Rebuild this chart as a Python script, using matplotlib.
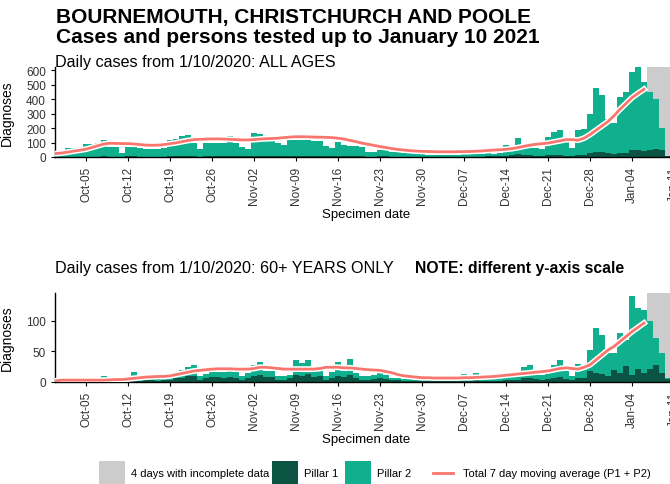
import numpy as np
import pandas as pd
import matplotlib
matplotlib.use('Agg')
from matplotlib import pyplot as plt
import matplotlib.dates as mdates
import matplotlib.patheffects as pe
from matplotlib.patches import Rectangle
from matplotlib.lines import Line2D

plt.rcParams['font.family'] = ['Liberation Sans', 'DejaVu Sans']

# specimen dates 30 Sep 2020 .. 10 Jan 2021
DATES = pd.date_range('2020-09-30', '2021-01-10')
LINE_DATES = pd.date_range('2020-09-30', '2021-01-06')

# ALL AGES: total (P1 + P2) and pillar 1
all_total = [20,
    30, 60, 62, 45, 88, 90, 100, 118, 72, 68, 30, 66, 66, 64, 56, 56, 56, 62, 120, 125, 148, 150, 100, 55, 100, 100, 100, 100, 148, 95, 70,
    55, 165, 158, 148, 148, 100, 85, 118, 118, 118, 115, 112, 112, 78, 62, 105, 80, 78, 76, 70, 32, 32, 46, 46, 38, 38, 26, 25, 22, 20,
    16, 16, 15, 16, 15, 14, 20, 18, 22, 22, 25, 24, 30, 80, 55, 128, 62, 60, 62, 58, 138, 173, 185, 112, 62, 185, 195, 295, 478, 430, 265,
    235, 418, 450, 588, 619, 515, 452, 402, 197, 8]
all_p1 = [1,
    2, 2, 2, 2, 3, 3, 3, 4, 3, 3, 2, 4, 4, 3, 3, 3, 3, 3, 5, 5, 6, 6, 5, 3, 6, 6, 6, 6, 7, 6, 5,
    4, 8, 8, 7, 7, 6, 5, 10, 10, 9, 9, 8, 8, 6, 5, 7, 6, 6, 6, 5, 3, 3, 4, 4, 3, 3, 3, 2, 2, 2,
    2, 2, 2, 2, 2, 2, 3, 3, 3, 3, 4, 4, 5, 10, 12, 18, 14, 12, 10, 10, 12, 14, 16, 10, 6, 14, 15, 25, 35, 33, 25,
    20, 30, 30, 48, 45, 42, 45, 58, 50, 5]
all_avg = [24,
    28, 34, 41, 47, 54, 66, 78, 90, 95, 94, 93, 92, 90, 86, 82, 81, 82, 86, 92, 98, 106, 114, 120, 122, 124, 125, 125, 124, 122, 120, 118,
    118, 120, 124, 126, 128, 130, 134, 138, 140, 140, 139, 138, 137, 136, 134, 130, 124, 115, 106, 96, 88, 80, 72, 65, 58, 52, 48, 44, 41, 39,
    38, 37, 36, 36, 36, 37, 37, 38, 40, 42, 45, 48, 50, 53, 58, 65, 74, 82, 88, 92, 96, 104, 112, 120, 120, 116, 130, 155, 185, 215, 245,
    285, 330, 370, 410, 440, 468]

# 60+ YEARS ONLY
old_total = [1,
    1, 2, 1, 2, 2, 3, 2, 10, 3, 3, 2, 4, 16, 5, 5, 6, 5, 6, 6, 17, 19, 25, 28, 9, 13, 17, 17, 17, 18, 17, 9,
    14, 28, 32, 18, 18, 9, 9, 12, 36, 31, 36, 18, 18, 9, 16, 32, 18, 37, 15, 9, 9, 11, 14, 12, 7, 7, 5, 5, 4, 4,
    3, 3, 3, 3, 3, 4, 13, 5, 14, 5, 5, 6, 6, 8, 9, 10, 25, 27, 12, 11, 14, 27, 36, 18, 9, 29, 22, 52, 88, 77, 48,
    47, 80, 68, 140, 120, 118, 100, 71, 47, 7]
old_p1 = [0,
    0, 1, 0, 1, 1, 1, 1, 2, 1, 1, 1, 2, 3, 2, 3, 3, 2, 3, 3, 6, 7, 9, 10, 4, 6, 8, 8, 7, 8, 7, 4,
    6, 10, 12, 8, 8, 4, 4, 6, 12, 10, 13, 8, 9, 4, 7, 10, 8, 12, 6, 4, 4, 5, 6, 5, 3, 3, 2, 2, 2, 2,
    1, 1, 1, 1, 1, 1, 2, 2, 3, 2, 2, 2, 2, 3, 4, 4, 6, 7, 5, 4, 5, 6, 8, 5, 3, 7, 6, 18, 15, 13, 9,
    19, 14, 26, 11, 21, 14, 21, 28, 15, 5]
old_avg = [2,
    3, 3, 3, 3, 3, 3, 3, 3, 3.5, 4, 4, 5, 6, 7, 8, 8.5, 9, 9, 10, 12, 14, 16, 18, 19, 20, 21, 21.5, 21.5, 21.5, 21, 21,
    21, 22, 24, 24, 23, 22, 21, 21, 21, 21, 21, 21, 22, 24, 24, 24, 23, 23, 22, 21, 20, 19.5, 19, 17, 15, 12, 10, 9, 8, 7,
    7, 6.5, 6.5, 6.5, 6.5, 6.5, 7, 7, 7.5, 8, 8.5, 9, 10, 11, 12, 13, 14, 15, 16, 17, 18, 20, 22, 23, 22, 21, 24, 28, 36, 44, 52,
    58, 66, 74, 82, 89, 96]

P1_COL = '#0b5444'
P2_COL = '#10b08e'
AVG_COL = '#f8766d'
GREY = '#cccccc'

W, H = 670, 485


def draw_panel(ax, total, p1, avg, ylim, yticks):
	x = mdates.date2num(DATES)
	ax.axvspan(mdates.date2num(pd.Timestamp('2021-01-06')) + 0.5,
		mdates.date2num(pd.Timestamp('2021-01-10')) + 0.5, color=GREY, lw=0, zorder=0)
	ax.bar(x, total, width=0.9, color=P2_COL, lw=0, zorder=1)
	ax.bar(x, p1, width=0.9, color=P1_COL, lw=0, zorder=2)
	ax.plot(mdates.date2num(LINE_DATES), avg, color=AVG_COL, lw=2, zorder=3,
		path_effects=[pe.Stroke(linewidth=4.2, foreground='white'), pe.Normal()])
	ax.set_xlim(mdates.date2num(pd.Timestamp('2020-09-29')) + 0.83,
		mdates.date2num(pd.Timestamp('2021-01-11')) + 0.5)
	ax.set_ylim(*ylim)
	ax.set_yticks(yticks)
	ax.xaxis.set_major_locator(mdates.WeekdayLocator(byweekday=mdates.MO))
	ax.xaxis.set_major_formatter(mdates.DateFormatter('%b-%d'))
	ax.tick_params(axis='x', labelrotation=90, labelsize=8.5, length=3, colors='black')
	ax.tick_params(axis='y', labelsize=8.5, length=3)
	for lab in ax.get_xticklabels() + ax.get_yticklabels():
		lab.set_color('#333333')
	for s in ['top', 'right']:
		ax.spines[s].set_visible(False)
	ax.spines['left'].set_linewidth(1.0)
	ax.spines['bottom'].set_linewidth(1.0)
	ax.set_ylabel('Diagnoses', fontsize=10, labelpad=2)
	ax.set_xlabel('Specimen date', fontsize=9.5, labelpad=3)


def main():
	fig = plt.figure(figsize=(W / 100, H / 100), dpi=100)

	left = 55 / W
	width = (677 - 55) / W
	ax1 = fig.add_axes([left, 1 - 158 / H, width, 90 / H])
	ax2 = fig.add_axes([left, 1 - 383 / H, width, 89 / H])

	draw_panel(ax1, all_total, all_p1, all_avg, (0, 622), [0, 100, 200, 300, 400, 500, 600])
	draw_panel(ax2, old_total, old_p1, old_avg, (0, 145), [0, 50, 100])
	ax1.yaxis.set_label_coords(-0.066, 0.5)
	ax2.yaxis.set_label_coords(-0.066, 0.5)

	fig.text(56 / W, 1 - 18 / H, 'BOURNEMOUTH, CHRISTCHURCH AND POOLE',
		fontsize=15, fontweight='bold', va='center', ha='left')
	fig.text(56 / W, 1 - 38 / H, 'Cases and persons tested up to January 10 2021',
		fontsize=15, fontweight='bold', va='center', ha='left')
	fig.text(55 / W, 1 - 62 / H, 'Daily cases from 1/10/2020: ALL AGES',
		fontsize=11.6, va='center', ha='left')
	fig.text(55 / W, 1 - 268 / H, 'Daily cases from 1/10/2020: 60+ YEARS ONLY',
		fontsize=11.6, va='center', ha='left')
	fig.text(415 / W, 1 - 268 / H, 'NOTE: different y-axis scale',
		fontsize=11.3, fontweight='bold', va='center', ha='left')

	# legend along the bottom
	ly = 1 - 474 / H
	box_w, box_h = 26 / W, 24 / H
	for x0, col, txt in [(99, GREY, '4 days with incomplete data'),
		(272, P1_COL, 'Pillar 1'), (345, P2_COL, 'Pillar 2')]:
		fig.add_artist(Rectangle((x0 / W, ly - box_h / 2), box_w, box_h,
			transform=fig.transFigure, color=col, lw=0))
		fig.text((x0 + 32) / W, ly, txt, fontsize=8, va='center', ha='left')
	fig.add_artist(Line2D([433 / W, 453 / W], [ly, ly], transform=fig.transFigure,
		color=AVG_COL, lw=2))
	fig.text(463 / W, ly, 'Total 7 day moving average (P1 + P2)', fontsize=8,
		va='center', ha='left')

	fig.savefig('out.png', dpi=100)


if __name__ == "__main__":
	main()
